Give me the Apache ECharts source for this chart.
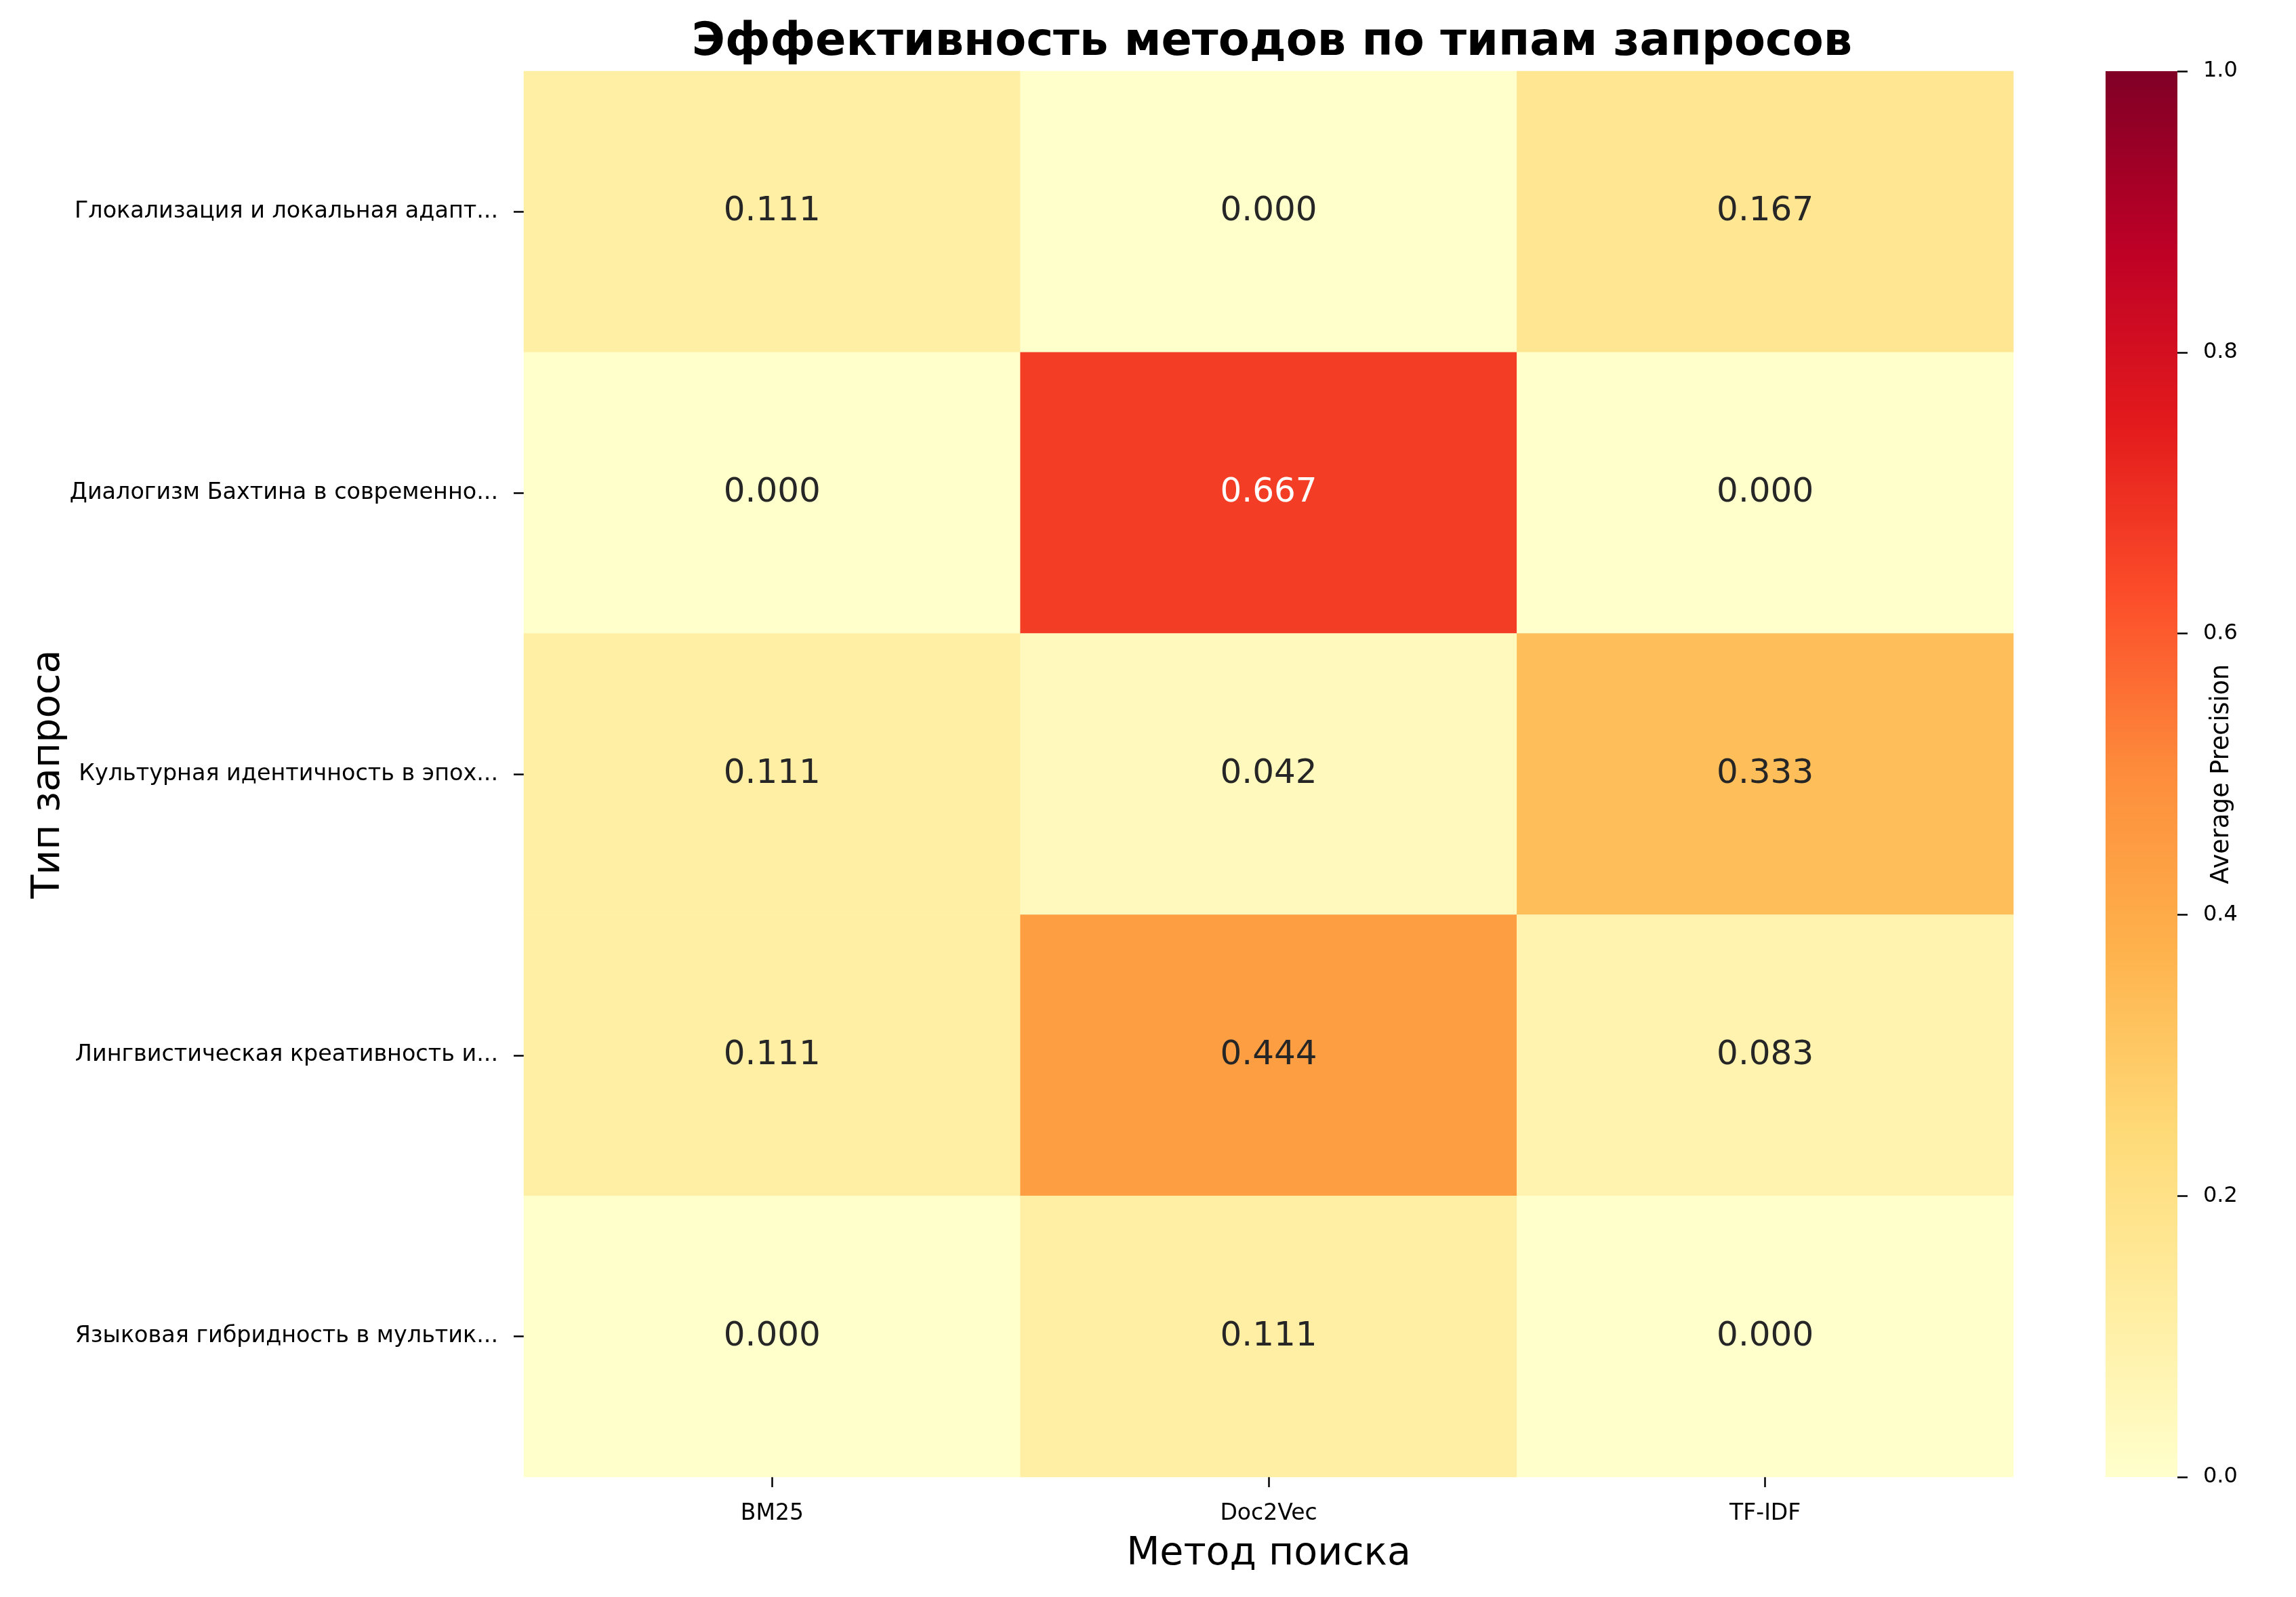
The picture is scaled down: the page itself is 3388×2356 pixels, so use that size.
<!DOCTYPE html>
<html>
<head>
<meta charset="utf-8">
<script src="https://cdn.jsdelivr.net/npm/echarts@6/dist/echarts.min.js"></script>
<style>html,body{margin:0;padding:0;background:#fff}#c{width:3388px;height:2356px}</style>
</head>
<body>
<div id="c"></div>
<script>
const methods = ['BM25', 'Doc2Vec', 'TF-IDF'];
const queryTypes = [
  'Глокализация и локальная адапт...',
  'Диалогизм Бахтина в современно...',
  'Культурная идентичность в эпох...',
  'Лингвистическая креативность и...',
  'Языковая гибридность в мультик...'
];
const bm25Values = [0.111, 0.000, 0.111, 0.111, 0.000];
const doc2vecValues = [0.000, 0.667, 0.042, 0.444, 0.111];
const tfidfValues = [0.167, 0.000, 0.333, 0.083, 0.000];
const colorbarTicks = [0, 0.2, 0.4, 0.6, 0.8, 1.0];
const colorbarMax = [1];

const ylOrRd = ['#ffffcc', '#ffeda0', '#fed976', '#feb24c', '#fd8d3c', '#fc4e2a', '#e31a1c', '#bd0026', '#800026'];

const cols = [bm25Values, doc2vecValues, tfidfValues];
const heatData = [];
cols.forEach((vals, xi) => vals.forEach((v, yi) => heatData.push([xi, yi, v])));

const FONT = 'DejaVu Sans';
const chart = echarts.init(document.getElementById('c'), null, {renderer: 'canvas'});
chart.setOption({
  backgroundColor: '#ffffff',
  animation: false,
  textStyle: {fontFamily: FONT},
  title: {
    text: 'Эффективность методов по типам запросов',
    left: 1872, top: 25, textAlign: 'center',
    textStyle: {fontFamily: FONT, fontSize: 67, fontWeight: 'bold', color: '#000'}
  },
  grid: [
    {left: 773, top: 105, width: 2198, height: 2074},
    {left: 3107, top: 105, width: 106, height: 2074}
  ],
  xAxis: [
    {
      type: 'category', gridIndex: 0, data: methods, position: 'bottom',
      axisLine: {show: false},
      axisTick: {show: true, alignWithLabel: true, length: 15, lineStyle: {color: '#000', width: 2.5}},
      axisLabel: {fontFamily: FONT, fontSize: 33, color: '#000', margin: 38},
      splitLine: {show: false},
      name: 'Метод поиска', nameLocation: 'middle', nameGap: 86,
      nameTextStyle: {fontFamily: FONT, fontSize: 57, color: '#000'}
    },
    {
      type: 'category', gridIndex: 1, data: ['cb'], show: false
    }
  ],
  yAxis: [
    {
      type: 'category', gridIndex: 0, data: queryTypes, inverse: true,
      axisLine: {show: false},
      axisTick: {show: true, alignWithLabel: true, length: 15, lineStyle: {color: '#000', width: 2.5}},
      axisLabel: {fontFamily: FONT, fontSize: 33.4, color: '#000', margin: 38},
      splitLine: {show: false},
      name: 'Тип запроса', nameLocation: 'middle', nameGap: 672,
      nameMoveOverlap: false,
      nameTextStyle: {fontFamily: FONT, fontSize: 57, color: '#000'}
    },
    {
      type: 'value', gridIndex: 1, min: 0, max: 1, interval: 0.2, position: 'right',
      axisLine: {show: false},
      axisTick: {show: true, length: 15, lineStyle: {color: '#000', width: 2.5}},
      axisLabel: {fontFamily: FONT, fontSize: 32, color: '#000', margin: 38,
        formatter: v => v.toFixed(1)},
      splitLine: {show: false},
      name: 'Average Precision', nameLocation: 'middle', nameGap: 47,
      nameMoveOverlap: false,
      nameTextStyle: {fontFamily: FONT, fontSize: 36.5, color: '#000'}
    }
  ],
  visualMap: {
    type: 'continuous', min: 0, max: 1, show: false, seriesIndex: 0,
    inRange: {color: ylOrRd}
  },
  series: [
    {
      type: 'heatmap', xAxisIndex: 0, yAxisIndex: 0,
      data: heatData.map(d => ({value: d, label: {color: d[2] > 0.5 ? '#ffffff' : '#262626'}})),
      silent: true,
      label: {
        show: true, fontFamily: FONT, fontSize: 50,
        formatter: p => p.value[2].toFixed(3)
      }
    },
    {
      type: 'bar', xAxisIndex: 1, yAxisIndex: 1, data: colorbarMax,
      barWidth: '100%', silent: true,
      itemStyle: {
        color: new echarts.graphic.LinearGradient(0, 1, 0, 0,
          ylOrRd.map((c, i) => ({offset: i / (ylOrRd.length - 1), color: c})))
      }
    }
  ]
});
</script>
</body>
</html>
